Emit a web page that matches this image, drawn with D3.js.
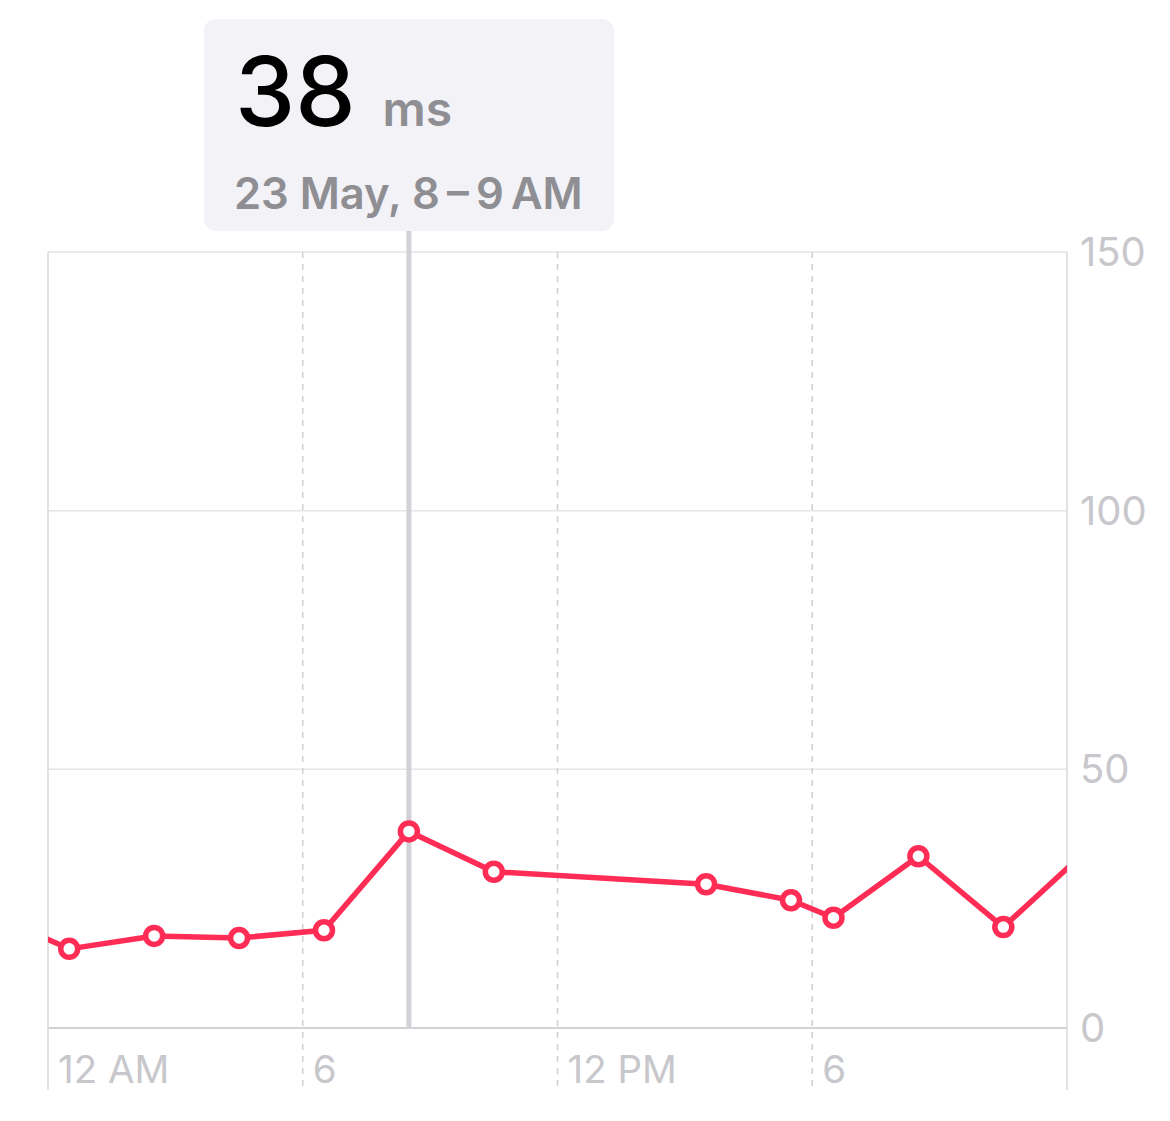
<!DOCTYPE html>
<html><head><meta charset="utf-8">
<script src="https://cdn.jsdelivr.net/npm/d3@7"></script>
<style>html,body{margin:0;padding:0;background:#fff;}svg{display:block;}</style>
</head><body>
<script>
// Data: hour (midpoint of hourly bucket) and HRV value in ms
const hours = [-1.5, 0.5, 2.5, 4.5, 6.5, 8.5, 10.5, 15.5, 17.5, 18.5, 20.5, 22.5, 24.5];
const values = [22.6, 15.3, 17.8, 17.4, 18.9, 38, 30.2, 27.8, 24.7, 21.3, 33.2, 19.5, 34.6];
const yTicks = [0, 50, 100, 150];
const xTickHours = [0, 6, 12, 18];
const xTickLabels = ["12 AM", "6", "12 PM", "6"];
const selectedHour = 8.5;
const selectedValue = "38";
const selectedUnit = "ms";
const selectedLabel = "23 May, 8\u2009\u2013\u20099\u2009AM";

(function () {
const W = 1170, H = 1121;
const pLeft = 48, pRight = 1067, pTop = 252, pBottom = 1028, tickBottom = 1090;
const font = "'Inter','Roboto','Noto Sans',sans-serif";

const svg = d3.select("body").append("svg").attr("width", W).attr("height", H);
const x = d3.scaleLinear().domain([0, 24]).range([pLeft, pRight]);
const y = d3.scaleLinear().domain([0, 150]).range([pBottom, pTop]);

// horizontal gridlines
svg.append("g").selectAll("line").data(yTicks).join("line")
  .attr("x1", pLeft).attr("x2", pRight)
  .attr("y1", d => y(d)).attr("y2", d => y(d))
  .attr("stroke", d => d === 0 ? "#d1d1d6" : "#e5e5ea").attr("stroke-width", d => d === 0 ? 2 : 1.5);

// vertical gridlines
svg.append("g").selectAll("line").data([0, 6, 12, 18, 24]).join("line")
  .attr("x1", d => x(d)).attr("x2", d => x(d))
  .attr("y1", pTop).attr("y2", tickBottom)
  .attr("stroke", d => (d === 0 || d === 24) ? "#d9d9de" : "#cfcfd4")
  .attr("stroke-width", 1.5)
  .attr("stroke-dasharray", d => (d === 0 || d === 24) ? null : "6,6");

// y labels
svg.append("g").selectAll("text").data(yTicks).join("text")
  .attr("x", 1080).attr("y", d => y(d) + 14)
  .attr("font-family", font).attr("font-size", 40).attr("fill", "#c7c7cc")
  .text(d => d);

// x labels
svg.append("g").selectAll("text").data(xTickHours).join("text")
  .attr("x", d => x(d) + 10).attr("y", 1083)
  .attr("font-family", font).attr("font-size", 38.5).attr("fill", "#c7c7cc")
  .text((d, i) => xTickLabels[i]);

// selection line
svg.append("line").attr("x1", x(selectedHour)).attr("x2", x(selectedHour))
  .attr("y1", 231).attr("y2", pBottom)
  .attr("stroke", "#d1d1d6").attr("stroke-width", 5);

// tooltip
svg.append("rect").attr("x", 204).attr("y", 19).attr("width", 410).attr("height", 212)
  .attr("rx", 12).attr("fill", "#f2f2f7");
const t1 = svg.append("text").attr("x", 235).attr("y", 126).attr("font-family", font);
t1.append("tspan").attr("font-size", 96).attr("font-weight", 500).attr("fill", "#000").text(selectedValue);
t1.append("tspan").attr("dx", 27).attr("font-size", 48).attr("font-weight", 600).attr("fill", "#8e8e93").text(selectedUnit);
svg.append("text").attr("x", 234).attr("y", 209).attr("font-family", font)
  .attr("font-size", 43.5).attr("font-weight", 600).attr("fill", "#8e8e93").text(selectedLabel);

// line
svg.append("defs").append("clipPath").attr("id", "clip")
  .append("rect").attr("x", pLeft).attr("y", 0).attr("width", pRight - pLeft).attr("height", pBottom);
const data = hours.map((h, i) => ({ h, v: values[i] }));
const line = d3.line().x(d => x(d.h)).y(d => y(d.v));
svg.append("path").datum(data).attr("clip-path", "url(#clip)")
  .attr("d", line).attr("fill", "none").attr("stroke", "#ff2d55").attr("stroke-width", 5.5)
  .attr("stroke-linejoin", "round");
svg.append("g").selectAll("circle").data(data.filter(d => d.h >= 0 && d.h <= 24)).join("circle")
  .attr("cx", d => x(d.h)).attr("cy", d => y(d.v)).attr("r", 8.5)
  .attr("fill", "#fff").attr("stroke", "#ff2d55").attr("stroke-width", 5.5);
})();
</script>
</body></html>
